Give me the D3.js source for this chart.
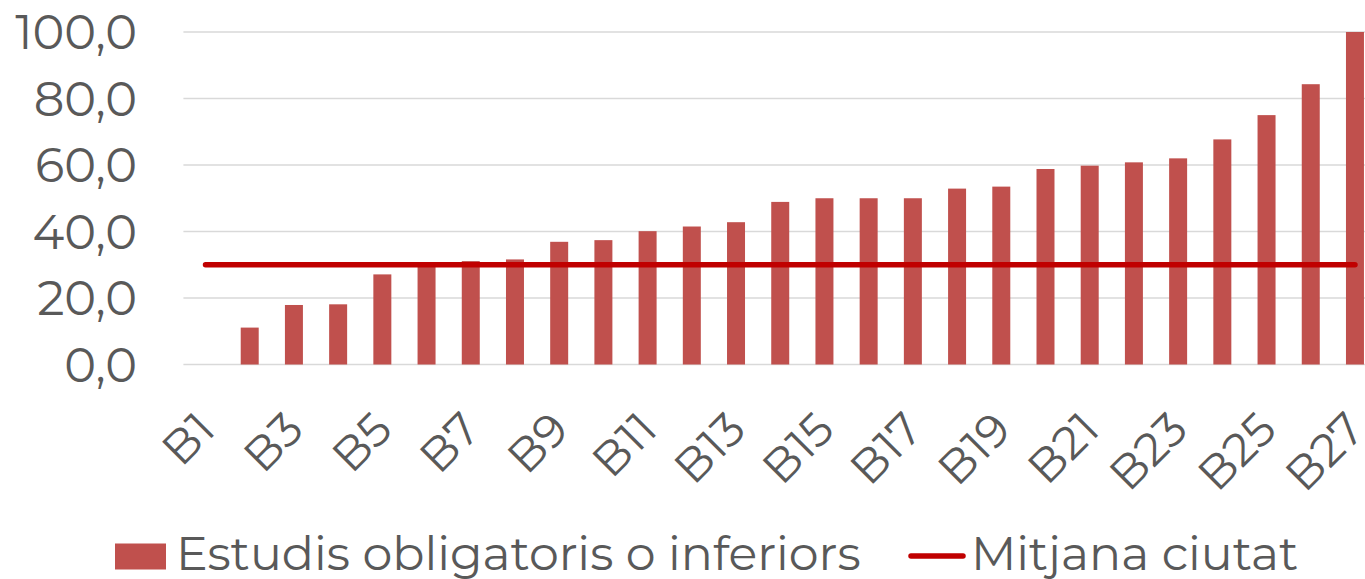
<!DOCTYPE html>
<html>
<head>
<meta charset="utf-8">
<script src="https://cdn.jsdelivr.net/npm/d3@7"></script>
<style>
  html, body { margin: 0; padding: 0; background: #fff; overflow: hidden; }
  svg { display: block; }
  text { font-family: "Montserrat", "DejaVu Sans", sans-serif; fill: #595959; }
</style>
</head>
<body>
<svg id="chart" width="1365" height="579"></svg>
<script>
const categories = ["B1","B2","B3","B4","B5","B6","B7","B8","B9","B10","B11","B12","B13","B14",
  "B15","B16","B17","B18","B19","B20","B21","B22","B23","B24","B25","B26","B27"];
const barValues = [0, 11.1, 17.9, 18.1, 27.1, 29.7, 31.1, 31.6, 36.9, 37.4, 40.1, 41.5, 42.8, 48.9,
  50.0, 50.0, 50.0, 52.9, 53.5, 58.8, 59.8, 60.8, 62.0, 67.7, 75.0, 84.3, 100.0];
const meanValues = [30,30,30,30,30,30,30,30,30,30,30,30,30,30,30,30,30,30,30,30,30,30,30,30,30,30,30];
const yTicks = [0, 20, 40, 60, 80, 100];
const xTickLabels = ["B1","B3","B5","B7","B9","B11","B13","B15","B17","B19","B21","B23","B25","B27"];
const seriesNames = ["Estudis obligatoris o inferiors", "Mitjana ciutat"];

const barColor = "#C0504D";
const lineColor = "#C00000";
const gridColor = "#D9D9D9";

const svg = d3.select("#chart");
const plotLeft = 183.4, step = 44.21;
const x = d3.scaleBand().domain(categories)
  .range([plotLeft, plotLeft + step * categories.length])
  .paddingInner(0.593).paddingOuter(0.2965);
const y = d3.scaleLinear().domain([0, 100]).range([364.5, 32]);

// gridlines
svg.append("g").selectAll("line").data(yTicks).join("line")
  .attr("x1", plotLeft).attr("x2", 1365)
  .attr("y1", d => y(d)).attr("y2", d => y(d))
  .attr("stroke", gridColor).attr("stroke-width", 1.5);

// y labels
const fmt = d => d.toFixed(1).replace(".", ",");
svg.append("g").selectAll("text").data(yTicks).join("text")
  .attr("x", 137).attr("y", d => y(d))
  .attr("dy", "0.36em")
  .attr("text-anchor", "end")
  .style("font-size", "48px")
  .text(fmt);

// bars
svg.append("g").selectAll("rect").data(categories).join("rect")
  .attr("x", d => x(d))
  .attr("width", x.bandwidth())
  .attr("y", (d, i) => y(barValues[i]))
  .attr("height", (d, i) => y(0) - y(barValues[i]))
  .attr("fill", barColor);

// mean line
const line = d3.line()
  .x((d, i) => x(categories[i]) + x.bandwidth() / 2)
  .y(d => y(d));
svg.append("path").datum(meanValues)
  .attr("d", line)
  .attr("fill", "none")
  .attr("stroke", lineColor)
  .attr("stroke-width", 5.5)
  .attr("stroke-linecap", "round");

// x labels
svg.append("g").selectAll("text").data(xTickLabels).join("text")
  .attr("transform", d => `translate(${x(d) + x.bandwidth() / 2 + 12},432) rotate(-45)`)
  .attr("text-anchor", "end")
  .style("font-size", "46px")
  .text(d => d);

// legend
const lg = svg.append("g");
lg.append("rect").attr("x", 115).attr("y", 543.5).attr("width", 51).attr("height", 26).attr("fill", barColor);
lg.append("text").attr("x", 176).attr("y", 570).style("font-size", "47.5px").text(seriesNames[0]);
lg.append("line").attr("x1", 911).attr("x2", 963).attr("y1", 556).attr("y2", 556)
  .attr("stroke", lineColor).attr("stroke-width", 5.5).attr("stroke-linecap", "round");
lg.append("text").attr("x", 971).attr("y", 570).style("font-size", "47.5px").text(seriesNames[1]);
</script>
</body>
</html>
